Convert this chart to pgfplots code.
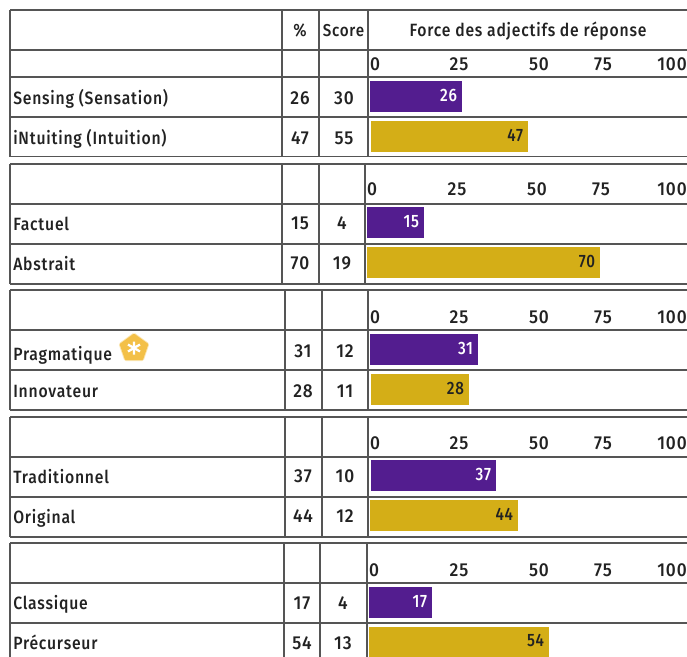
\documentclass[border=0pt]{standalone}
\usepackage{pgfplots}
\pgfplotsset{compat=1.18}
\usepackage{fontspec}
\setmainfont{Fira Sans Medium}[Numbers=Lining,LetterSpace=5]
\definecolor{bpurple}{HTML}{531D8F}
\definecolor{bgold}{HTML}{D4AE17}
\definecolor{rulec}{HTML}{555555}
\definecolor{ink}{HTML}{222222}
\definecolor{badge}{HTML}{F3C048}
\definecolor{badgeglow}{HTML}{FBE6B4}
\newcommand{\tfont}{\fontsize{11.8}{13}\selectfont}
% \barax{left}{right}{top}{bottom}{value}{colour}{label colour}
\newcommand{\barax}[7]{%
\pgfmathsetlengthmacro{\barW}{(#2-#1)*0.75/#5*100}%
\pgfmathsetlengthmacro{\barH}{(#4-#3)*0.75}%
\begin{axis}[at={({#1*0.75pt},{-#4*0.75pt})},anchor=south west,scale only axis,
 width=\barW,height=\barH,xmin=0,xmax=100,ymin=0,ymax=1,hide axis,clip=false]
\addplot[xbar,bar width=\barH,bar shift=0pt,draw=none,fill=#6] coordinates {(#5,0.5)};
\node[anchor=east,inner sep=0pt,xshift=-3.5pt,yshift=0.8pt,text=#7,font=\fontsize{12}{13}\selectfont] at (axis cs:#5,0.5) {\scalebox{0.95}[1.12]{#5}};
\end{axis}}
\newcommand{\T}[4][base]{\node[anchor=#1,inner sep=0pt,text=ink,font=\tfont] at (#2,#3) {\scalebox{1}[1.13]{#4}};}
\newcommand{\N}[3]{\node[anchor=base,inner sep=0pt,text=ink,font=\fontsize{13}{14}\selectfont] at (#1,#2) {\scalebox{1}[1.08]{#3}};}
\newcommand{\ticksrow}[6]{\N{#2}{#1}{0}\N{#3}{#1}{25}\N{#4}{#1}{50}\N{#5}{#1}{75}\N{#6}{#1}{100}}
% \tbl{y0}{y1}{y2}{y3}{x1}{x2}{x3}
\newcommand{\tbl}[7]{%
\foreach \yy in {#1,#2,#3,#4} \draw[rulec,line width=1.3pt] (10,\yy)--(687,\yy);
\foreach \xx in {10,#5,#6,#7} \draw[rulec,line width=1.3pt] (\xx,#1)--(\xx,#4);}
\begin{document}
\begin{tikzpicture}
\path[use as bounding box] (0,0) rectangle (515.25pt,-492.75pt);
\barax{370}{462}{81}{112}{26}{bpurple}{white}
\barax{371}{528}{121}{152}{47}{bgold}{ink}
\barax{367}{424}{207}{238}{15}{bpurple}{white}
\barax{367}{600}{247}{278}{70}{bgold}{ink}
\barax{370}{478}{334}{365}{31}{bpurple}{white}
\barax{371}{469}{374}{405}{28}{bgold}{ink}
\barax{371}{496}{460}{491}{37}{bpurple}{white}
\barax{370}{518}{500}{531}{44}{bgold}{ink}
\barax{369}{432}{587}{618}{17}{bpurple}{white}
\barax{369}{549}{627}{657}{54}{bgold}{ink}
\begin{scope}[x=0.75pt,y=-0.75pt]
% table 1
\foreach \yy in {10,50,77,117,156.5} \draw[rulec,line width=1.3pt] (10,\yy)--(687,\yy);
\foreach \xx in {10,282,319,368} \draw[rulec,line width=1.3pt] (\xx,10)--(\xx,156.5);
\tbl{164}{204}{244}{284}{282}{319}{365}
\tbl{290}{330}{370}{410}{285}{322}{368}
\tbl{417}{457}{497}{537}{285}{322}{368}
\tbl{543}{583}{623}{658}{284}{320}{367}
% headers
\T{300}{36}{\%}\T{343.5}{36}{{\fontsize{11.4}{13}\selectfont Score}}\T{528}{36}{Force des adjectifs de réponse}
\ticksrow{70}{375}{459}{539}{603}{672}
\ticksrow{195}{372}{457}{537}{601}{672}
\ticksrow{323}{375}{459}{539}{603}{672}
\ticksrow{449}{375}{459}{539}{603}{672}
\ticksrow{576}{374}{459}{539}{603}{672}
% row labels
\T[base west]{13}{104}{Sensing (Sensation)}
\T[base west]{13}{144}{iNtuiting (Intuition)}
\T[base west]{13}{230}{Factuel}
\T[base west]{13}{270}{Abstrait}
\T[base west]{13}{360}{Pragmatique}
\T[base west]{13}{397}{Innovateur}
\T[base west]{13}{483}{Traditionnel}
\T[base west]{13}{523}{Original}
\T[base west]{13}{609}{Classique}
\T[base west]{13}{649}{Précurseur}
% values
\N{300}{104}{26}\N{344}{104}{30}
\N{300}{144}{47}\N{344}{144}{55}
\N{300}{229}{15}\N{342}{229}{4}
\N{300}{269}{70}\N{342}{269}{19}
\N{303}{357}{31}\N{345}{357}{12}
\N{303}{397}{28}\N{345}{397}{11}
\N{303}{482}{37}\N{345}{482}{10}
\N{303}{522}{44}\N{345}{522}{12}
\N{302}{609}{17}\N{343}{609}{4}
\N{302}{649}{54}\N{343}{649}{13}
% badge
\path[fill=badgeglow,draw=badgeglow,line width=3.2pt,line join=round]
 (134,335)--(147,344.5)--(142,359)--(126,359)--(121,344.5)--cycle;
\path[fill=badge,draw=badge,line width=1.8pt,line join=round]
 (134,335)--(147,344.5)--(142,359)--(126,359)--(121,344.5)--cycle;
\draw[white,line width=1.7pt] (134,341.5)--(134,354.5) (128,344.5)--(140,351.5) (128,351.5)--(140,344.5);
\end{scope}
\end{tikzpicture}
\end{document}
